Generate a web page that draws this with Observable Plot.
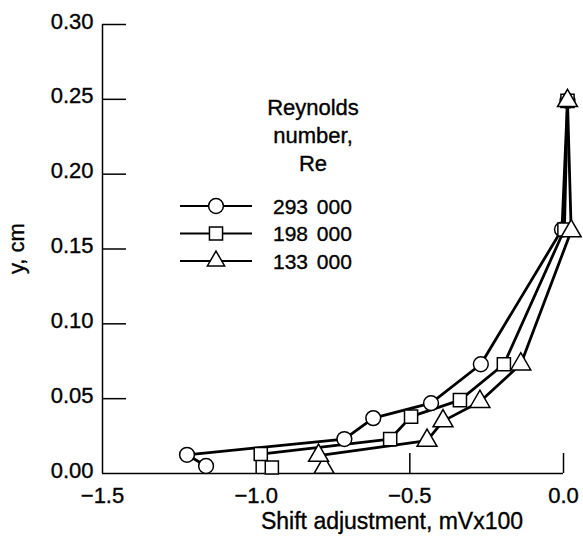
<!DOCTYPE html>
<html>
<head>
<meta charset="utf-8">
<script src="https://cdn.jsdelivr.net/npm/d3@7"></script>
<script src="https://cdn.jsdelivr.net/npm/@observablehq/plot@0.6"></script>
<style>
  html, body { margin: 0; padding: 0; background: #fff; }
  #chart { position: relative; width: 583px; height: 546px; }
  #chart svg text { stroke: #000; stroke-width: 0.35px; }
</style>
</head>
<body>
<div id="chart"></div>
<script>
// Series data (x = shift adjustment, mV x 100; y = cm)
const seriesNames = ["293 000", "198 000", "133 000"];
const symbols = ["circle", "square", "triangle"];
const x293 = [-1.163, -1.225, -0.713, -0.619, -0.431, -0.269, -0.005, 0.013];
const y293 = [0.005, 0.0125, 0.023, 0.037, 0.047, 0.073, 0.163, 0.249];
const x198 = [-0.949, -0.985, -0.564, -0.496, -0.337, -0.194, 0.003, 0.013];
const y198 = [0.004, 0.013, 0.023, 0.038, 0.049, 0.073, 0.163, 0.249];
const x133 = [-0.779, -0.797, -0.444, -0.392, -0.272, -0.139, 0.025, 0.013];
const y133 = [0.004, 0.012, 0.022, 0.035, 0.048, 0.073, 0.162, 0.249];
const xTickValues = [-1.0, -0.5, 0.0];
const xLabelValues = [-1.5, -1.0, -0.5, 0.0];
const yTickValues = [0.05, 0.10, 0.15, 0.20, 0.25, 0.30];
const yLabelValues = [0.00, 0.05, 0.10, 0.15, 0.20, 0.25, 0.30];
const legendTitle = ["Reynolds", "number,", "Re"];
const xLabel = "Shift adjustment, mVx100";
const yLabel = "y, cm";

const xs = [x293, x198, x133], ys = [y293, y198, y133];
const rows = [];
seriesNames.forEach((name, i) => {
  xs[i].forEach((x, j) => rows.push({series: name, symbol: symbols[i], x, y: ys[i][j], order: j}));
});

const font = "'Liberation Sans', Arial, Helvetica, sans-serif";

const chart = Plot.plot({
  width: 583,
  height: 546,
  marginLeft: 102,
  marginRight: 20,
  marginTop: 24,
  marginBottom: 73,
  style: {fontFamily: font, fontSize: "22px", color: "#000", background: "#fff"},
  x: {domain: [-1.5, 0]},
  y: {domain: [0, 0.3]},
  symbol: {domain: symbols, range: symbols},
  marks: [
    Plot.ruleX([-1.5], {y1: 0, y2: 0.3, stroke: "#000", strokeWidth: 1.5}),
    Plot.ruleY([0], {x1: -1.5, x2: 0, stroke: "#000", strokeWidth: 1.5}),
    Plot.axisY(yTickValues, {tickSize: -24, tickFormat: () => "", label: null, strokeWidth: 1.5}),
    Plot.axisY(yLabelValues, {tickSize: 0, tickPadding: 9, tickFormat: d3.format(".2f"), label: null, fontSize: 22, dy: -3}),
    Plot.axisX(xTickValues, {tickSize: -20, tickFormat: () => "", label: null, strokeWidth: 1.5}),
    Plot.axisX(xLabelValues, {tickSize: 0, tickPadding: 14, tickFormat: d3.format(".1f"), label: null, fontSize: 22}),
    Plot.text([xLabel], {frameAnchor: "bottom", dy: 55, dx: 59, fontSize: 23}),
    Plot.text([yLabel], {frameAnchor: "left", rotate: -90, dx: -86, dy: 25, fontSize: 22}),
    Plot.line(rows, {x: "x", y: "y", z: "series", sort: "order", stroke: "#000", strokeWidth: 2.8, strokeLinejoin: "round"}),
    Plot.dot(rows, {x: "x", y: "y", symbol: "symbol", r: 7.4, fill: "#fff", stroke: "#000", strokeWidth: 1.5})
  ]
});

document.getElementById("chart").appendChild(chart);

// Legend drawn onto the same SVG
const svg = d3.select(chart);
const lg = svg.append("g").attr("font-family", font).attr("fill", "#000");
legendTitle.forEach((t, i) => {
  lg.append("text").attr("x", 313).attr("y", 115 + i * 28).attr("text-anchor", "middle")
    .attr("font-size", 22).text(t);
});
const legendSymbols = [d3.symbolCircle, d3.symbolSquare, d3.symbolTriangle];
const legendSizes = [Math.PI * 7.4 * 7.4, Math.PI * 7.4 * 7.4, Math.PI * 6.4 * 6.4];
seriesNames.forEach((name, i) => {
  const y = 206 + i * 27.5;
  lg.append("line").attr("x1", 180).attr("x2", 252).attr("y1", y).attr("y2", y)
    .attr("stroke", "#000").attr("stroke-width", 2);
  lg.append("path").attr("d", d3.symbol(legendSymbols[i], legendSizes[i])())
    .attr("transform", `translate(216,${y})`).attr("fill", "#fff").attr("stroke", "#000").attr("stroke-width", 1.5);
  lg.append("text").attr("x", 273).attr("y", y).attr("dy", "0.36em").attr("font-size", 21)
    .attr("text-anchor", "start").attr("word-spacing", "3px").text(name);
});
</script>
</body>
</html>
